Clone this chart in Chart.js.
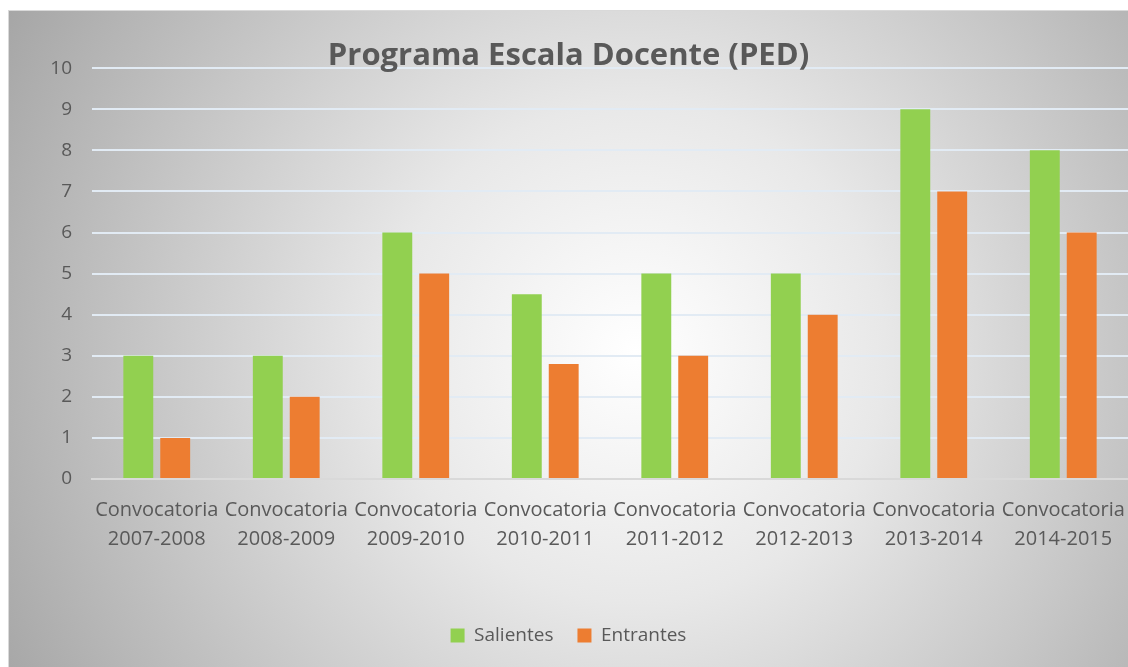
<!DOCTYPE html>
<html>
<head>
<meta charset="utf-8">
<script src="https://cdn.jsdelivr.net/npm/chart.js@4"></script>
<style>
  html, body { margin: 0; padding: 0; background: #fff; }
  #box {
    position: absolute; left: 8px; top: 10px; width: 1119px; height: 656px;
    border: 1px solid #d9d9d9; border-right: none; border-bottom: none;
    background: radial-gradient(circle farthest-corner at 56% 52%, #ffffff 0%, #e8e8e8 35%, #a6a6a6 100%);
  }
</style>
</head>
<body>
<div id="box"><canvas id="myChart"></canvas></div>
<script>
const categories = [
  ['Convocatoria', '2007-2008'],
  ['Convocatoria', '2008-2009'],
  ['Convocatoria', '2009-2010'],
  ['Convocatoria', '2010-2011'],
  ['Convocatoria', '2011-2012'],
  ['Convocatoria', '2012-2013'],
  ['Convocatoria', '2013-2014'],
  ['Convocatoria', '2014-2015']
];
const salientes = [3, 3, 6, 4.5, 5, 5, 9, 8];
const entrantes = [1, 2, 5, 2.8, 3, 4, 7, 6];

document.addEventListener('DOMContentLoaded', function () {
  const ctx = document.getElementById('myChart');
  const textColor = '#595959';
  const font = '"Open Sans", sans-serif';

  const salientesDataset = {
    label: 'Salientes',
    data: salientes,
    backgroundColor: '#92D050',
    categoryPercentage: 0.57,
    barPercentage: 0.81
  };

  const entrantesDataset = {
    label: 'Entrantes',
    data: entrantes,
    backgroundColor: '#ED7D31',
    categoryPercentage: 0.57,
    barPercentage: 0.81
  };

  new Chart(ctx, {
    type: 'bar',
    data: {
      labels: categories,
      datasets: [salientesDataset, entrantesDataset]
    },
    options: {
      responsive: true,
      maintainAspectRatio: false,
      animation: false,
      layout: { padding: { left: 0, right: 0, top: 0, bottom: 12 } },
      plugins: {
        title: {
          display: true,
          text: 'Programa Escala Docente (PED)',
          color: textColor,
          font: { family: font, size: 31, weight: 'bold' },
          padding: { top: 27, bottom: -7 }
        },
        legend: {
          position: 'bottom',
          labels: {
            color: textColor,
            font: { family: font, size: 19 },
            boxWidth: 14,
            boxHeight: 14,
            padding: 24
          }
        },
        tooltip: { enabled: false }
      },
      scales: {
        x: {
          afterFit: s => { s.height = 123; s.paddingLeft = 0; s.paddingRight = 0; },
          grid: { display: false },
          border: { color: '#d9d9d9', width: 2 },
          ticks: {
            color: textColor,
            font: { family: font, size: 20, lineHeight: 1.45 },
            padding: 9,
            maxRotation: 0,
            autoSkip: false
          }
        },
        y: {
          min: 0,
          max: 10,
          afterFit: s => { s.width = 83; },
          grid: { color: '#e2ebf4', lineWidth: 2, drawTicks: false },
          border: { display: false },
          ticks: {
            stepSize: 1,
            color: textColor,
            font: { family: font, size: 19 },
            padding: 20
          }
        }
      }
    }
  });
});
</script>
</body>
</html>
